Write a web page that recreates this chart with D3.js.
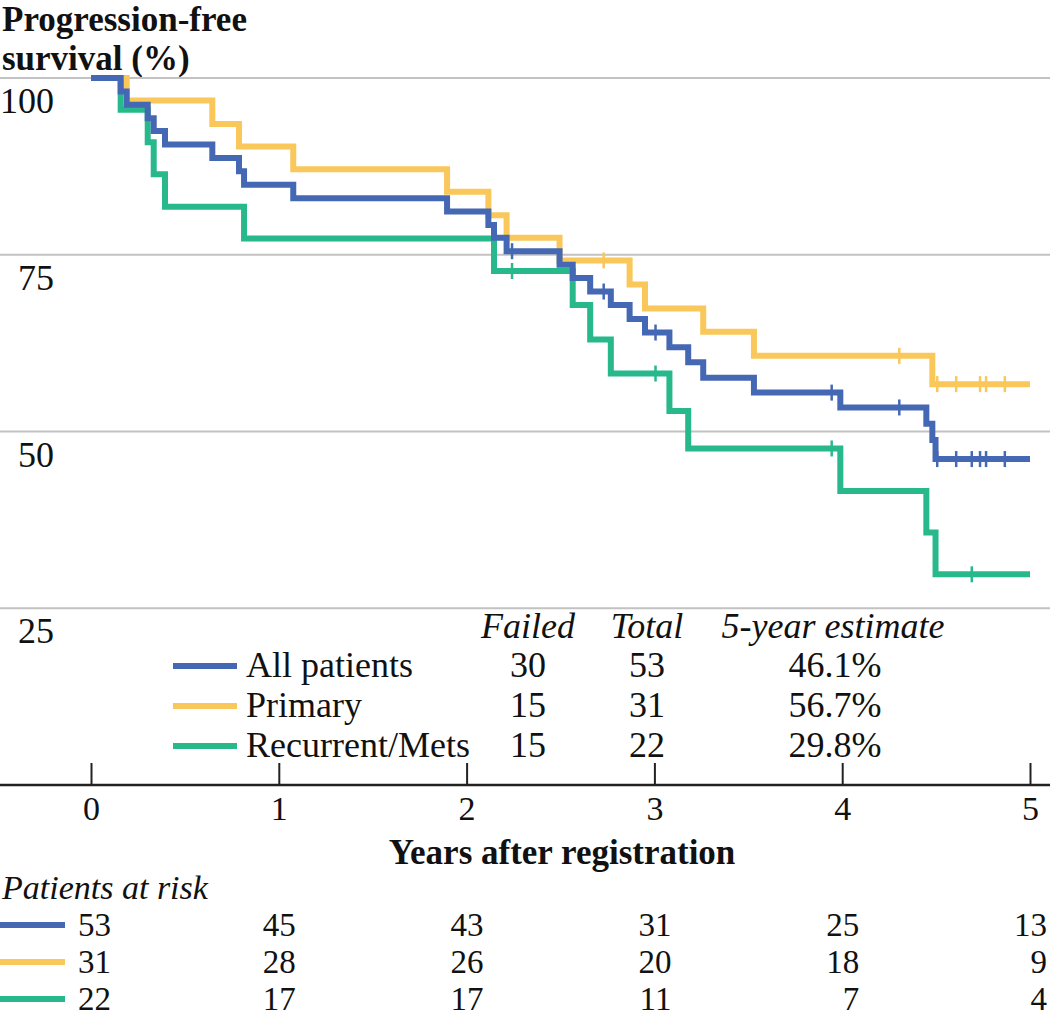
<!DOCTYPE html>
<html>
<head>
<meta charset="utf-8">
<script src="https://cdn.jsdelivr.net/npm/d3@7"></script>
<style>
  html, body { margin: 0; padding: 0; background: #ffffff; }
  svg { display: block; }
  text { font-family: "Liberation Serif", "Times New Roman", serif; fill: #111; }
</style>
</head>
<body>
<svg id="chart" width="1050" height="1018"></svg>
<script>
// ---------------- DATA ----------------
const seriesNames = ["All patients", "Primary", "Recurrent/Mets"];
const seriesColors = ["#4468b3", "#f9c75a", "#27b88b"];

// Kaplan–Meier step points: [years, survival %]
const allSteps = [
  [0, 100], [0.158, 98.1], [0.190, 96.2], [0.302, 94.3], [0.334, 92.5], [0.394, 90.6],
  [0.646, 88.7], [0.788, 86.8], [0.815, 84.9], [1.077, 83.0], [1.896, 81.1], [2.116, 79.2],
  [2.146, 77.4], [2.213, 75.5], [2.495, 73.6], [2.565, 71.7], [2.658, 69.8], [2.768, 67.9],
  [2.868, 65.9], [2.950, 64.0], [3.080, 61.9], [3.180, 59.8], [3.260, 57.6], [3.530, 55.5],
  [3.990, 53.4], [4.448, 51.1], [4.480, 48.8], [4.497, 46.1], [5, 46.1]
];
const primarySteps = [
  [0, 100], [0.190, 96.8], [0.646, 93.5], [0.788, 90.3], [1.077, 87.1], [1.896, 83.9],
  [2.116, 80.6], [2.213, 77.4], [2.495, 74.2], [2.868, 70.8], [2.950, 67.4], [3.260, 64.1],
  [3.530, 60.7], [4.480, 56.7], [5, 56.7]
];
const recurrentSteps = [
  [0, 100], [0.158, 95.5], [0.302, 90.9], [0.334, 86.4], [0.394, 81.8], [0.815, 77.3],
  [2.146, 72.7], [2.565, 67.9], [2.658, 63.0], [2.768, 58.2], [3.080, 52.9], [3.180, 47.6],
  [3.990, 41.6], [4.448, 35.7], [4.497, 29.8], [5, 29.8]
];

// censored observations (years)
const allCensored = [2.242, 2.73, 3.006, 3.944, 4.304, 4.506, 4.607, 4.69, 4.734, 4.766, 4.866];
const primaryCensored = [2.73, 4.304, 4.506, 4.607, 4.734, 4.766, 4.866];
const recurrentCensored = [2.242, 3.006, 3.944, 4.69];

const failed = [30, 15, 15];
const totals = [53, 31, 22];
const estimates = ["46.1%", "56.7%", "29.8%"];

const yTicks = [100, 75, 50, 25];
const xTicks = [0, 1, 2, 3, 4, 5];
const riskTimes = [0, 1, 2, 3, 4, 5];
const atRiskAll = [53, 45, 43, 31, 25, 13];
const atRiskPrimary = [31, 28, 26, 20, 18, 9];
const atRiskRecurrent = [22, 17, 17, 11, 7, 4];

// ---------------- CHART ----------------
const W = 1050, H = 1018;
const svg = d3.select("#chart");
const x = d3.scaleLinear().domain([0, 5]).range([91, 1030]);
const y = d3.scaleLinear().domain([0, 100]).range([785, 78]);

const series = [
  { name: seriesNames[0], color: seriesColors[0], steps: allSteps, cens: allCensored, risk: atRiskAll },
  { name: seriesNames[1], color: seriesColors[1], steps: primarySteps, cens: primaryCensored, risk: atRiskPrimary },
  { name: seriesNames[2], color: seriesColors[2], steps: recurrentSteps, cens: recurrentCensored, risk: atRiskRecurrent }
];

// Title
const title = svg.append("text").attr("x", 2).attr("font-size", 35).attr("font-weight", "bold");
title.append("tspan").attr("x", 2).attr("y", 31).text("Progression-free");
title.append("tspan").attr("x", 2).attr("y", 70).text("survival (%)");

// Gridlines + y labels
svg.append("g").selectAll("line").data(yTicks).join("line")
  .attr("x1", 0).attr("x2", W)
  .attr("y1", d => y(d)).attr("y2", d => y(d))
  .attr("stroke", "#c2c2c2").attr("stroke-width", 2);
svg.append("g").selectAll("text").data(yTicks).join("text")
  .attr("x", 54).attr("y", d => y(d) + 35)
  .attr("text-anchor", "end").attr("font-size", 36)
  .text(d => d);

// Curves (green, yellow, blue on top)
const line = d3.line().x(d => x(d[0])).y(d => y(d[1])).curve(d3.curveStepAfter);
function valueAt(steps, t) {
  let v = steps[0][1];
  for (const s of steps) { if (s[0] <= t) v = s[1]; }
  return v;
}
const drawOrder = [series[2], series[1], series[0]];
drawOrder.forEach(s => {
  const g = svg.append("g");
  g.append("path").datum(s.steps)
    .attr("d", line).attr("fill", "none")
    .attr("stroke", s.color).attr("stroke-width", 6)
    .attr("stroke-linejoin", "miter");
  g.selectAll("line.c").data(s.cens).join("line")
    .attr("class", "c")
    .attr("x1", d => x(d)).attr("x2", d => x(d))
    .attr("y1", d => y(valueAt(s.steps, d)) - 8)
    .attr("y2", d => y(valueAt(s.steps, d)) + 8)
    .attr("stroke", s.color).attr("stroke-width", 2.5);
});

// X axis
const xAxis = d3.axisBottom(x).tickValues(xTicks).tickFormat(d3.format("d"))
  .tickSizeInner(-22).tickSizeOuter(0).tickPadding(11);
const gx = svg.append("g").attr("transform", "translate(0,785)").call(xAxis);
gx.select(".domain").remove();
gx.selectAll(".tick line").attr("stroke", "#222").attr("stroke-width", 2);
gx.selectAll(".tick text").attr("font-size", 34)
  .attr("font-family", "Liberation Serif, Times New Roman, serif").attr("fill", "#111");
svg.append("line").attr("x1", 0).attr("x2", W).attr("y1", 785).attr("y2", 785)
  .attr("stroke", "#222").attr("stroke-width", 2.5);

svg.append("text").attr("x", 562).attr("y", 864).attr("text-anchor", "middle")
  .attr("font-size", 35).attr("font-weight", "bold").text("Years after registration");

// Legend table
const legHead = svg.append("g").attr("font-size", 36).attr("font-style", "italic");
legHead.append("text").attr("x", 528).attr("y", 638).attr("text-anchor", "middle").text("Failed");
legHead.append("text").attr("x", 647).attr("y", 638).attr("text-anchor", "middle").text("Total");
legHead.append("text").attr("x", 833).attr("y", 638).attr("text-anchor", "middle").text("5-year estimate");

const legRowY = [677, 717, 757];
series.forEach((s, i) => {
  const g = svg.append("g");
  g.append("line").attr("x1", 173).attr("x2", 237)
    .attr("y1", legRowY[i] - 11).attr("y2", legRowY[i] - 11)
    .attr("stroke", s.color).attr("stroke-width", 6);
  g.append("text").attr("x", 246).attr("y", legRowY[i]).attr("font-size", 36).text(s.name);
  g.append("text").attr("x", 528).attr("y", legRowY[i]).attr("font-size", 36).attr("text-anchor", "middle").text(failed[i]);
  g.append("text").attr("x", 647).attr("y", legRowY[i]).attr("font-size", 36).attr("text-anchor", "middle").text(totals[i]);
  g.append("text").attr("x", 835).attr("y", legRowY[i]).attr("font-size", 36).attr("text-anchor", "middle").text(estimates[i]);
});

// Patients at risk
svg.append("text").attr("x", 2).attr("y", 899).attr("font-size", 34).attr("font-style", "italic").text("Patients at risk");
const riskRowY = [936, 973, 1010];
series.forEach((s, i) => {
  const g = svg.append("g");
  g.append("line").attr("x1", 0).attr("x2", 65)
    .attr("y1", riskRowY[i] - 11).attr("y2", riskRowY[i] - 11)
    .attr("stroke", s.color).attr("stroke-width", 6);
  g.selectAll("text").data(s.risk).join("text")
    .attr("x", (d, j) => x(riskTimes[j]) + (j === 0 ? 20 : 17))
    .attr("y", riskRowY[i]).attr("font-size", 33).attr("text-anchor", "end")
    .text(d => d);
});
</script>
</body>
</html>
